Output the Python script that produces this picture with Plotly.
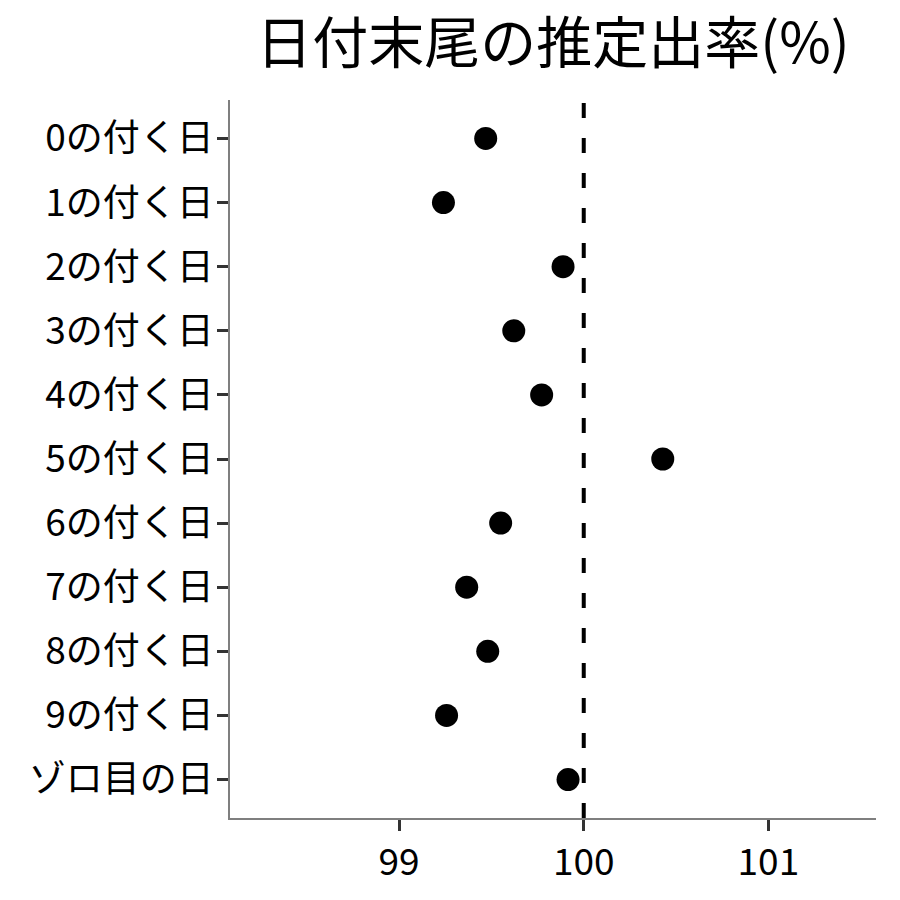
import plotly.graph_objects as go

categories = ["0の付く日", "1の付く日", "2の付く日", "3の付く日", "4の付く日",
              "5の付く日", "6の付く日", "7の付く日", "8の付く日", "9の付く日", "ゾロ目の日"]
rates = [99.469, 99.240, 99.888, 99.621, 99.772, 100.428, 99.550, 99.366, 99.480, 99.257, 99.915]
reference_value = 100
x_tick_vals = [99, 100, 101]
x_tick_text = ["99", "100", "101"]
title_text = "日付末尾の推定出率(%)"

FONT = "Noto Sans CJK JP"

fig = go.Figure()
fig.add_trace(go.Scatter(
    x=rates, y=categories, mode="markers",
    marker=dict(color="black", size=23),
    showlegend=False, cliponaxis=False,
))
fig.add_shape(type="line", x0=reference_value, x1=reference_value, xref="x",
              y0=0, y1=1, yref="paper",
              line=dict(color="black", width=4, dash="15px,20px"))

fig.update_layout(
    width=900, height=900,
    margin=dict(l=222, r=32, t=92, b=90, autoexpand=False),
    plot_bgcolor="white", paper_bgcolor="white",
    font=dict(family=FONT, color="black"),
    title=dict(text=title_text, x=545 / 900, xanchor="center",
               y=1 - 35 / 900, yanchor="middle",
               font=dict(size=56, family=FONT, color="black")),
    xaxis=dict(range=[98.084, 101.583], tickvals=x_tick_vals, ticktext=x_tick_text,
               showgrid=False, zeroline=False, showline=True, linecolor="#7f7f7f",
               linewidth=1.5, ticks="outside", ticklen=11, tickwidth=2.5,
               tickcolor="#333333", tickfont=dict(size=37, family=FONT, color="black")),
    yaxis=dict(type="category", categoryorder="array", categoryarray=categories,
               range=[10.6, -0.6], showgrid=False, zeroline=False, showline=True,
               linecolor="#7f7f7f", linewidth=1.5, ticks="outside", ticklen=11,
               tickwidth=2.5, tickcolor="#333333", ticklabelstandoff=-4,
               tickfont=dict(size=37, family=FONT, color="black")),
)
fig.write_html("out.html")
